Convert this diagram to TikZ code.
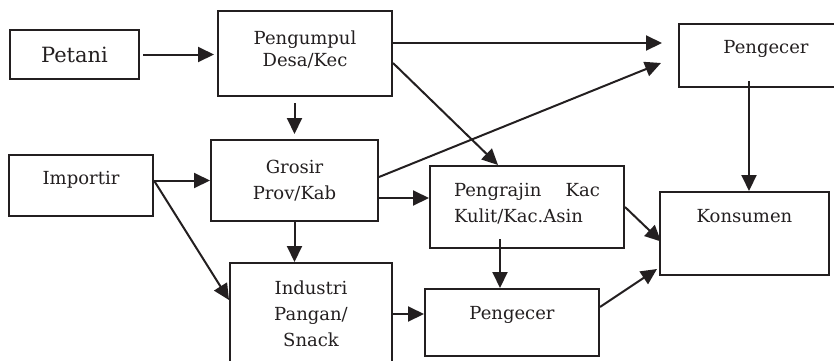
\documentclass[tikz,border=0pt]{standalone}
\usepackage{fontspec}
\setmainfont{DejaVu Serif}
\usepackage{tikz}
\usetikzlibrary{arrows.meta,calc}
\definecolor{kline}{RGB}{35,31,32}

\begin{document}
\begin{tikzpicture}[>={Triangle[length=8pt,width=7.5pt]},x=0.5pt,y=-0.5pt,font=\fontsize{9}{13}\selectfont]
\tikzstyle{box}=[draw=kline, line width=1pt, align=center, inner sep=2pt, text=kline]
\tikzstyle{flow}=[->, line width=1pt, kline]

\useasboundingbox (0,0) rectangle (834,360);
\clip (0,0) rectangle (834,360);

\node[box, minimum width=64.5pt, minimum height=24.5pt, font=\fontsize{10.5}{13}\selectfont] (petani) at (74.5,54.5) {Petani};
\node[box, minimum width=87pt, minimum height=42.5pt, font=\fontsize{9}{11}\selectfont, text depth=4.5pt] (pengumpul) at (305,53.5) {Pengumpul\\Desa/Kec};
\node[box, minimum width=87pt, minimum height=31.5pt, text depth=8.5pt] (pengecerA) at (766,55.5) {Pengecer};
\node[box, minimum width=83.5pt, minimum height=40.5pt] (grosir) at (294.5,180.5) {Grosir\\Prov/Kab};
\node[box, minimum width=72pt, minimum height=30.5pt, text depth=7.5pt] (importir) at (81,185.5) {Importir};
\node[box, align=left, minimum width=97pt, minimum height=41pt, text depth=4pt] (pengrajin) at (527,207) {\makebox[73pt][s]{Pengrajin Kac}\\Kulit/Kac.Asin};
\node[box, minimum width=84.5pt, minimum height=41.5pt, text depth=17.5pt] (konsumen) at (744.5,233.5) {Konsumen};
\node[box, minimum width=81pt, minimum height=51pt] (industri) at (311,314) {Industri\\Pangan/\\Snack};
\node[box, minimum width=87pt, minimum height=33.5pt, text depth=10pt] (pengecerB) at (512,322.5) {Pengecer};

\coordinate (imp) at (importir.east |- grosir.west);
\coordinate (gr) at ($(grosir.east)+(0,17.5)$);
\coordinate (pk) at ($(pengrajin.south)+(-27,-10)$);
\coordinate (pc) at ($(konsumen.north)+(4.5,0)$);

\draw[flow, shorten <=1.5pt, shorten >=1.5pt] (petani.east) -- (petani.east -| pengumpul.west);
\draw[flow] ($(pengumpul.east)+(0,-10.5)$) -- ($(pengecerA.west)+(-16,-12.5)$);
\draw[flow] ($(pengumpul.east)+(0,9.5)$) -- ($(pengrajin.north)+(-29,0)$);
\draw[flow, shorten <=3pt, shorten >=2.5pt] (grosir.north |- pengumpul.south) -- (grosir.north);
\draw[flow] ($(grosir.east)+(0,-3.5)$) -- ($(pengecerA.west)+(-17,7.5)$);
\draw[flow] (imp) -- (grosir.west);
\draw[flow] (imp) -- ($(industri.west)+(0,-14)$);
\draw[flow] (gr) -- (gr -| pengrajin.west);
\draw[flow] (grosir.south) -- (grosir.south |- industri.north);
\draw[flow] (industri.east) -- (industri.east -| pengecerB.west);
\draw[flow] (pk) -- (pk |- pengecerB.north);
\draw[flow] ($(pc |- pengecerA.south)+(0,-7)$) -- (pc);
\draw[flow] (pengrajin.east) -- ($(konsumen.west)+(2,8)$);
\draw[flow] ($(pengecerB.east)+(0,-15.5)$) -- ($(konsumen.south west)+(-2,-7)$);
\end{tikzpicture}
\end{document}
